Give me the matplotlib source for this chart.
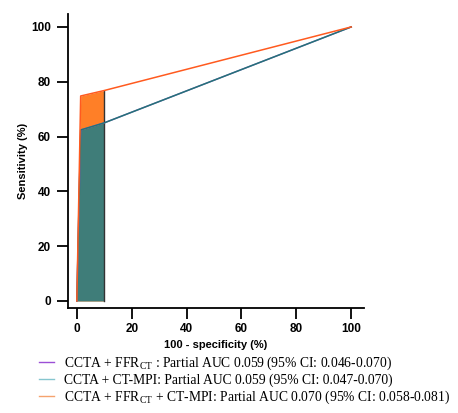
import matplotlib
matplotlib.use("Agg")
import matplotlib.pyplot as plt
from matplotlib.lines import Line2D

plt.rcParams['mathtext.fontset'] = 'custom'
plt.rcParams['mathtext.rm'] = 'Liberation Serif'
plt.rcParams['mathtext.it'] = 'Liberation Serif:italic'

# ROC points (100 - specificity, sensitivity)
fpr = [0, 1.4, 10, 100]
sens_ffr = [0, 62.4, 65, 100]
sens_mpi = [0, 62.4, 65, 100]
sens_both = [0, 74.8, 76.8, 100]

# partial region (fpr 0-10)
part_fpr = [0, 1.4, 10]
part_teal = [0, 62.4, 65]
part_orange = [0, 74.8, 76.8]

legend_labels = [
    r'CCTA + FFR$_{\mathrm{CT}}$ : Partial AUC 0.059 (95% CI: 0.046-0.070)',
    'CCTA + CT-MPI: Partial AUC 0.059 (95% CI: 0.047-0.070)',
    r'CCTA + FFR$_{\mathrm{CT}}$ + CT-MPI: Partial AUC 0.070 (95% CI: 0.058-0.081)',
]
legend_colors = ['#9b4fd6', '#86c6cf', '#f5a36e']

xticks = [0, 20, 40, 60, 80, 100]
yticks = [0, 20, 40, 60, 80, 100]

fig = plt.figure(figsize=(4.58, 4.13), dpi=100)
ax = fig.add_axes([0.148, 0.254, 0.647, 0.712])

ax.fill_between(part_fpr, 0, part_orange, color='#ff7f27', lw=0)
ax.fill_between(part_fpr, 0, part_teal, color='#3f7d79', lw=0)
ax.plot([10, 10], [0, 76.8], color='#333333', lw=1)

ax.plot(fpr, sens_ffr, color='#9b4fd6', lw=1)
ax.plot(fpr, sens_mpi, color='#237477', lw=1.1)
ax.plot(fpr, sens_both, color='#ff5a1f', lw=1.1)

ax.set_xlim(-3.3, 104.7)
ax.set_ylim(-2.6, 104.7)
ax.set_xticks(xticks)
ax.set_yticks(yticks)
ax.spines['top'].set_visible(False)
ax.spines['right'].set_visible(False)
ax.spines['left'].set_linewidth(1.3)
ax.spines['bottom'].set_linewidth(1.3)
ax.tick_params(axis='both', length=8, width=1.3, labelsize=8.5)
ax.tick_params(axis='x', pad=3)
ax.tick_params(axis='y', pad=4)
for lab in ax.get_xticklabels() + ax.get_yticklabels():
    lab.set_fontweight('bold')
    lab.set_family('Liberation Sans')

ax.set_xlabel('100 - specificity (%)', fontsize=8, fontweight='bold',
              family='Liberation Sans', labelpad=3)
ax.set_ylabel('Sensitivity (%)', fontsize=8, fontweight='bold',
              family='Liberation Sans', labelpad=2)

handles = [Line2D([0], [0], color=c, lw=1) for c in legend_colors]
fig.legend(handles, legend_labels, loc='upper left', bbox_to_anchor=(0.085, 0.142),
           frameon=False, prop={'family': 'Liberation Serif', 'size': 9.8},
           handlelength=1.1, handletextpad=0.75, labelspacing=0.12,
           borderaxespad=0, borderpad=0)

fig.savefig('out.png', dpi=100)
